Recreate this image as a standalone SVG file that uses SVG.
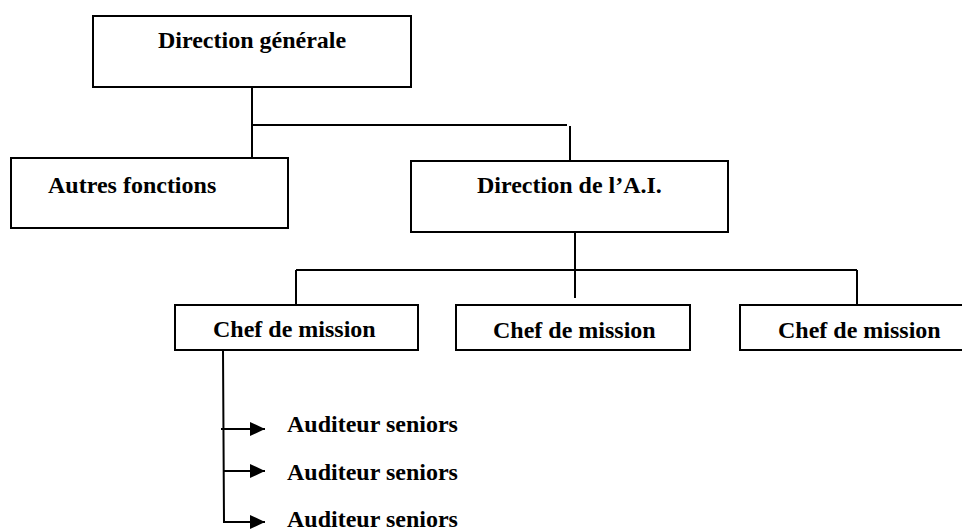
<svg xmlns="http://www.w3.org/2000/svg" width="962" height="529" viewBox="0 0 962 529">
  <style>
    .box { fill: #ffffff; stroke: #000000; stroke-width: 2; }
    .lbl { font-family: 'Liberation Serif', 'DejaVu Serif', serif; font-weight: bold; font-size: 24px; fill: #000000; }
    .wire { fill: none; stroke: #000000; stroke-width: 2; }
  </style>
  <defs>
    <marker id="head" markerUnits="userSpaceOnUse" markerWidth="16" markerHeight="16" viewBox="0 0 16 16" refX="15" refY="8" orient="auto">
      <polygon points="0,1 15,8 0,15" fill="#000000"/>
    </marker>
  </defs>
  <rect width="962" height="529" fill="#ffffff"/>

  <g id="connectors">
    <!-- top level: direction générale to its two branches -->
    <line class="wire" x1="252" y1="87" x2="252" y2="158"/>
    <line class="wire" x1="252" y1="125" x2="567" y2="125"/>
    <line class="wire" x1="570" y1="126" x2="570" y2="161"/>
    <!-- direction de l'A.I. to chefs de mission -->
    <line class="wire" x1="575" y1="232" x2="575" y2="298"/>
    <line class="wire" x1="296" y1="270" x2="857" y2="270"/>
    <line class="wire" x1="296" y1="270" x2="296" y2="305"/>
    <line class="wire" x1="857" y1="270" x2="857" y2="305"/>
    <!-- chef de mission to auditeurs -->
    <polyline class="wire" points="223,350 224,522 265,522" marker-end="url(#head)"/>
    <line class="wire" x1="221" y1="429" x2="265" y2="429" marker-end="url(#head)"/>
    <line class="wire" x1="223" y1="471" x2="265" y2="471" marker-end="url(#head)"/>
  </g>

  <g id="direction-generale">
    <rect class="box" x="93" y="16" width="318" height="71"/>
    <text class="lbl" font-family="Liberation Serif" x="158" y="48">Direction générale</text>
  </g>

  <g id="autres-fonctions">
    <rect class="box" x="11" y="158" width="277" height="70"/>
    <text class="lbl" font-family="Liberation Serif" x="48" y="193">Autres fonctions</text>
  </g>

  <g id="direction-ai">
    <rect class="box" x="411" y="161" width="317" height="71"/>
    <text class="lbl" font-family="Liberation Serif" x="477" y="193">Direction de l’A.I.</text>
  </g>

  <g id="chef-1">
    <rect class="box" x="175" y="305" width="243" height="45"/>
    <text class="lbl" font-family="Liberation Serif" x="213" y="337">Chef de mission</text>
  </g>

  <g id="chef-2">
    <rect class="box" x="456" y="305" width="234" height="45"/>
    <text class="lbl" font-family="Liberation Serif" x="493" y="338">Chef de mission</text>
  </g>

  <g id="chef-3">
    <rect class="box" x="740" y="305" width="224" height="45"/>
    <text class="lbl" font-family="Liberation Serif" x="778" y="338">Chef de mission</text>
  </g>

  <g id="auditeur-1">
    <text class="lbl" font-family="Liberation Serif" x="287" y="432">Auditeur seniors</text>
  </g>
  <g id="auditeur-2">
    <text class="lbl" font-family="Liberation Serif" x="287" y="480">Auditeur seniors</text>
  </g>
  <g id="auditeur-3">
    <text class="lbl" font-family="Liberation Serif" x="287" y="527">Auditeur seniors</text>
  </g>
</svg>
